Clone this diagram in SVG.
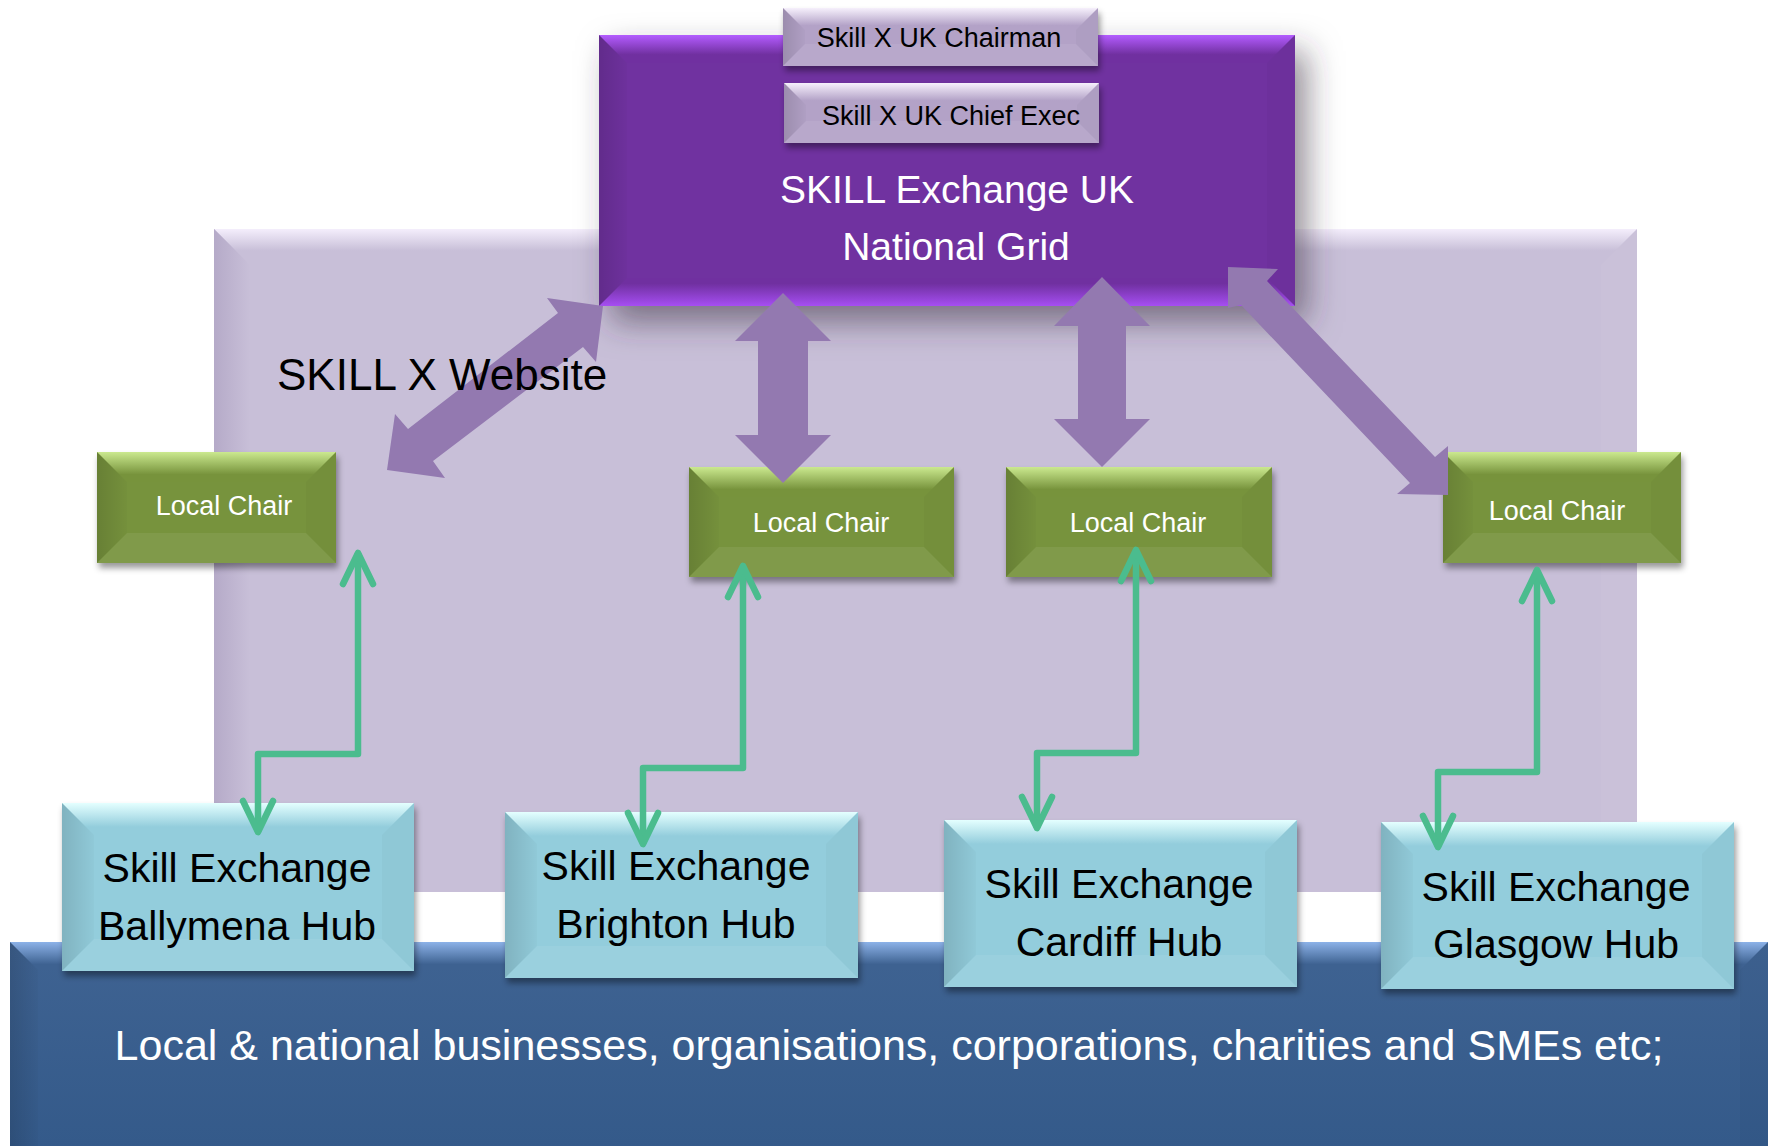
<svg xmlns="http://www.w3.org/2000/svg" width="1770" height="1146" viewBox="0 0 1770 1146">
<defs>
<linearGradient id="lTop" x1="0" y1="0" x2="0" y2="1"><stop offset="0" stop-color="#F4EEFC"/><stop offset="0.6" stop-color="#C8BFD8"/></linearGradient>
<linearGradient id="lLeft" x1="0" y1="0" x2="1" y2="0"><stop offset="0" stop-color="#B5AAC8"/><stop offset="1" stop-color="#C8BFD8"/></linearGradient>
<linearGradient id="pTop" x1="0" y1="0" x2="0" y2="1"><stop offset="0" stop-color="#B45CFF"/><stop offset="0.7" stop-color="#7030A0"/></linearGradient>
<linearGradient id="pBot" x1="0" y1="0" x2="0" y2="1"><stop offset="0.2" stop-color="#7030A0"/><stop offset="1" stop-color="#A64EF2"/></linearGradient>
<linearGradient id="cTop" x1="0" y1="0" x2="0" y2="1"><stop offset="0" stop-color="#F6F0FC"/><stop offset="0.8" stop-color="#B3A2C7"/></linearGradient>
<linearGradient id="gTop" x1="0" y1="0" x2="0" y2="1"><stop offset="0" stop-color="#CBE98F"/><stop offset="0.75" stop-color="#77933C"/></linearGradient>
<linearGradient id="hTop" x1="0" y1="0" x2="0" y2="1"><stop offset="0" stop-color="#E4FFFF"/><stop offset="0.75" stop-color="#93CDDC"/></linearGradient>
<linearGradient id="bTop" x1="0" y1="0" x2="0" y2="1"><stop offset="0" stop-color="#8CB2E8"/><stop offset="0.8" stop-color="#3E6291"/></linearGradient>
<linearGradient id="bBase" x1="0" y1="0" x2="0" y2="1"><stop offset="0" stop-color="#3F6392"/><stop offset="1" stop-color="#345A8A"/></linearGradient>
<linearGradient id="sideDk" x1="0" y1="0" x2="1" y2="0"><stop offset="0" stop-color="#000" stop-opacity="0.13"/><stop offset="1" stop-color="#000" stop-opacity="0.02"/></linearGradient>
<filter id="sh" x="-10%" y="-20%" width="120%" height="150%"><feDropShadow dx="2" dy="5" stdDeviation="3" flood-color="#000" flood-opacity="0.4"/></filter>
<filter id="shp" x="-10%" y="-10%" width="130%" height="140%"><feDropShadow dx="12" dy="16" stdDeviation="16" flood-color="#3A3040" flood-opacity="0.55"/></filter>
<marker id="gh" markerUnits="userSpaceOnUse" viewBox="-40 -25 50 50" markerWidth="50" markerHeight="50" refX="0" refY="0" orient="auto-start-reverse" overflow="visible">
<path d="M-31,-15 L0,0 L-31,15" fill="none" stroke="#4BBC8E" stroke-width="6.5" stroke-linecap="round" stroke-linejoin="round"/>
</marker>
</defs>
<style>
text{font-family:"Liberation Sans",Arial,sans-serif;text-anchor:middle}
.dk{fill:url(#sideDk)}
.rt{fill:#000;fill-opacity:0.025}
.lt{fill:#fff;fill-opacity:0.07}
.lc{fill:#77933C}
.hub{fill:#93CDDC}
.ch{fill:#B3A2C7}
.lct{font-size:27px;fill:#fff}
.ht{font-size:41px;fill:#000}
.cht{font-size:27px;fill:#000}
.gc{fill:none;stroke:#4BBC8E;stroke-width:6.5;stroke-linejoin:round;marker-start:url(#gh);marker-end:url(#gh)}
.pa{fill:#9379B0}
</style>
<rect width="1770" height="1146" fill="#fff"/>

<g id="website-panel">
<rect x="214" y="229" width="1423" height="663" fill="#C8BFD8"/>
<polygon points="214,229 1637,229 1601,265 250,265" fill="url(#lTop)"/>
<polygon points="214,229 250,265 250,856 214,892" fill="url(#lLeft)"/>
<polygon points="1637,229 1637,892 1601,856 1601,265" fill="#fff" fill-opacity="0.04"/>
</g>

<g id="businesses">
<rect x="10" y="942" width="1758" height="204" fill="url(#bBase)"/>
<polygon points="10,942 1768,942 1740,970 38,970" fill="url(#bTop)"/>
<polygon class="dk" points="10,942 38,970 38,1146 10,1146"/>
<polygon class="rt" points="1768,942 1768,1146 1740,1146 1740,970"/>
<text x="889" y="1060" font-size="43" fill="#fff">Local &amp; national businesses, organisations, corporations, charities and SMEs etc;</text>
</g>

<g id="national-grid">
<rect x="599" y="35" width="696" height="271" fill="#7030A0" filter="url(#shp)"/>
<polygon points="599,35 1295,35 1267,63 627,63" fill="url(#pTop)"/>
<polygon points="599,306 627,278 1267,278 1295,306" fill="url(#pBot)"/>
<polygon class="dk" points="599,35 627,63 627,278 599,306"/>
<polygon class="rt" points="1295,35 1295,306 1267,278 1267,63"/>
<text x="957" y="203" font-size="39" fill="#fff">SKILL Exchange UK</text>
<text x="956" y="260" font-size="39" fill="#fff">National Grid</text>
</g>

<g id="chairman">
<rect class="ch" x="783" y="8" width="315" height="58" filter="url(#sh)"/>
<polygon points="783,8 1098,8 1076,30 805,30" fill="url(#cTop)"/>
<polygon class="dk" points="783,8 805,30 805,44 783,66"/>
<polygon class="rt" points="1098,8 1098,66 1076,44 1076,30"/>
<polygon class="lt" points="783,66 805,44 1076,44 1098,66"/>
<text class="cht" x="939" y="47">Skill X UK Chairman</text>
</g>

<g id="chief-exec">
<rect class="ch" x="784" y="83" width="315" height="60" filter="url(#sh)"/>
<polygon points="784,83 1099,83 1077,105 806,105" fill="url(#cTop)"/>
<polygon class="dk" points="784,83 806,105 806,121 784,143"/>
<polygon class="rt" points="1099,83 1099,143 1077,121 1077,105"/>
<polygon class="lt" points="784,143 806,121 1077,121 1099,143"/>
<text class="cht" x="951" y="125">Skill X UK Chief Exec</text>
</g>

<g id="local-chair-1">
<rect class="lc" x="97" y="452" width="239" height="111" filter="url(#sh)"/>
<polygon points="97,452 336,452 306,482 127,482" fill="url(#gTop)"/>
<polygon class="dk" points="97,452 127,482 127,533 97,563"/>
<polygon class="rt" points="336,452 336,563 306,533 306,482"/>
<polygon class="lt" points="97,563 127,533 306,533 336,563"/>
<text class="lct" x="224" y="515">Local Chair</text>
</g>

<g id="local-chair-2">
<rect class="lc" x="689" y="467" width="265" height="110" filter="url(#sh)"/>
<polygon points="689,467 954,467 924,497 719,497" fill="url(#gTop)"/>
<polygon class="dk" points="689,467 719,497 719,547 689,577"/>
<polygon class="rt" points="954,467 954,577 924,547 924,497"/>
<polygon class="lt" points="689,577 719,547 924,547 954,577"/>
<text class="lct" x="821" y="532">Local Chair</text>
</g>

<g id="local-chair-3">
<rect class="lc" x="1006" y="467" width="266" height="110" filter="url(#sh)"/>
<polygon points="1006,467 1272,467 1242,497 1036,497" fill="url(#gTop)"/>
<polygon class="dk" points="1006,467 1036,497 1036,547 1006,577"/>
<polygon class="rt" points="1272,467 1272,577 1242,547 1242,497"/>
<polygon class="lt" points="1006,577 1036,547 1242,547 1272,577"/>
<text class="lct" x="1138" y="532">Local Chair</text>
</g>

<g id="local-chair-4">
<rect class="lc" x="1443" y="452" width="238" height="111" filter="url(#sh)"/>
<polygon points="1443,452 1681,452 1651,482 1473,482" fill="url(#gTop)"/>
<polygon class="dk" points="1443,452 1473,482 1473,533 1443,563"/>
<polygon class="rt" points="1681,452 1681,563 1651,533 1651,482"/>
<polygon class="lt" points="1443,563 1473,533 1651,533 1681,563"/>
<text class="lct" x="1557" y="520">Local Chair</text>
</g>

<g id="hub-ballymena">
<rect class="hub" x="62" y="803" width="352" height="168" filter="url(#sh)"/>
<polygon points="62,803 414,803 382,835 94,835" fill="url(#hTop)"/>
<polygon class="dk" points="62,803 94,835 94,939 62,971"/>
<polygon class="rt" points="414,803 414,971 382,939 382,835"/>
<polygon class="lt" points="62,971 94,939 382,939 414,971"/>
<text class="ht" x="237" y="882">Skill Exchange</text>
<text class="ht" x="237" y="940">Ballymena Hub</text>
</g>

<g id="hub-brighton">
<rect class="hub" x="505" y="812" width="353" height="166" filter="url(#sh)"/>
<polygon points="505,812 858,812 826,844 537,844" fill="url(#hTop)"/>
<polygon class="dk" points="505,812 537,844 537,946 505,978"/>
<polygon class="rt" points="858,812 858,978 826,946 826,844"/>
<polygon class="lt" points="505,978 537,946 826,946 858,978"/>
<text class="ht" x="676" y="880">Skill Exchange</text>
<text class="ht" x="676" y="938">Brighton Hub</text>
</g>

<g id="hub-cardiff">
<rect class="hub" x="944" y="820" width="353" height="167" filter="url(#sh)"/>
<polygon points="944,820 1297,820 1265,852 976,852" fill="url(#hTop)"/>
<polygon class="dk" points="944,820 976,852 976,955 944,987"/>
<polygon class="rt" points="1297,820 1297,987 1265,955 1265,852"/>
<polygon class="lt" points="944,987 976,955 1265,955 1297,987"/>
<text class="ht" x="1119" y="898">Skill Exchange</text>
<text class="ht" x="1119" y="956">Cardiff Hub</text>
</g>

<g id="hub-glasgow">
<rect class="hub" x="1381" y="822" width="353" height="167" filter="url(#sh)"/>
<polygon points="1381,822 1734,822 1702,854 1413,854" fill="url(#hTop)"/>
<polygon class="dk" points="1381,822 1413,854 1413,957 1381,989"/>
<polygon class="rt" points="1734,822 1734,989 1702,957 1702,854"/>
<polygon class="lt" points="1381,989 1413,957 1702,957 1734,989"/>
<text class="ht" x="1556" y="901">Skill Exchange</text>
<text class="ht" x="1556" y="958">Glasgow Hub</text>
</g>

<g id="connectors">
<polygon class="pa" points="603,306 596,362 583,347 433,461 445,478 387,470 395,414 408,429 558,313 547,298"/>
<polygon class="pa" points="783,293 831,341 808,341 808,435 831,435 783,483 735,435 758,435 758,341 735,341"/>
<polygon class="pa" points="1102,277 1150,326 1126,326 1126,419 1150,419 1102,467 1054,419 1078,419 1078,326 1054,326"/>
<polygon class="pa" points="1228,267 1278,269 1267,281 1435,457 1448,446 1448,495 1397,494 1410,483 1241,305 1228,308"/>
<path class="gc" d="M358,553 V754 H258 V832"/>
<path class="gc" d="M743,566 V768 H643 V844"/>
<path class="gc" d="M1136,550 V753 H1037 V828"/>
<path class="gc" d="M1537,570 V772 H1438 V847"/>
</g>

<g id="website-label">
<text x="277" y="390" font-size="44" style="text-anchor:start" fill="#000">SKILL X Website</text>
</g>
</svg>
